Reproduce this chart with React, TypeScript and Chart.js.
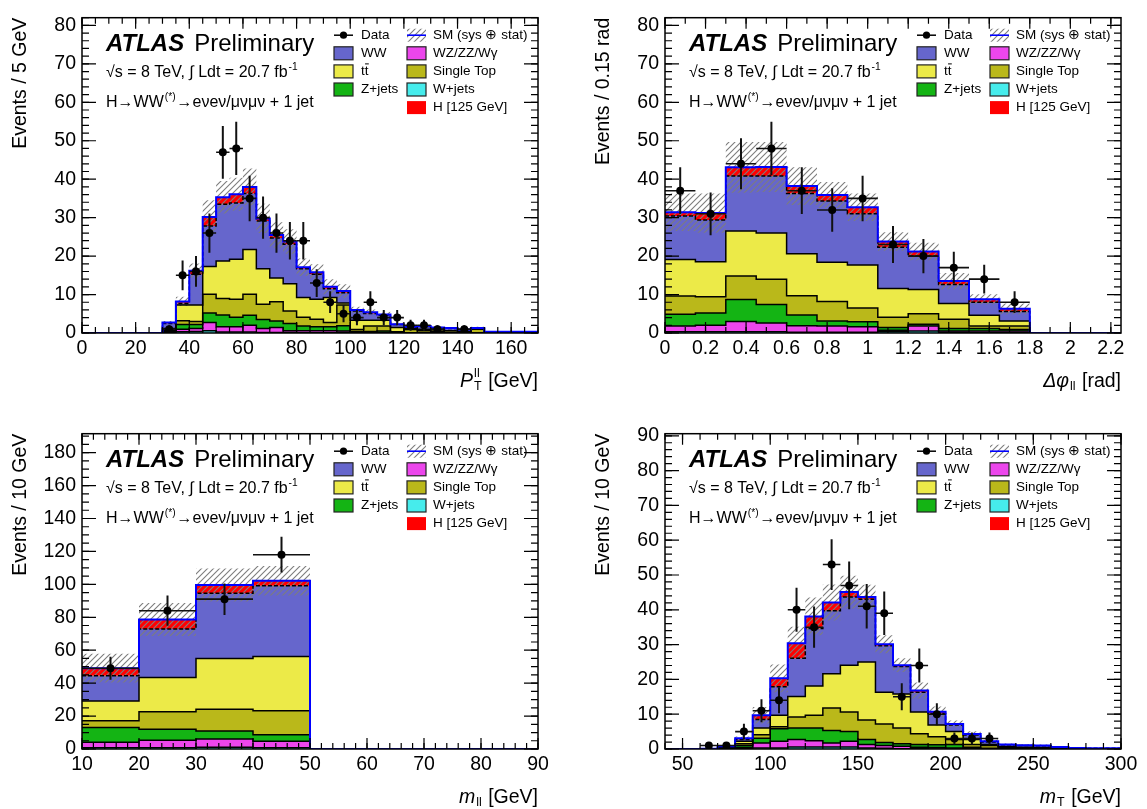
import React, { useEffect, useRef } from 'react';
import { Chart, registerables } from 'chart.js';

Chart.register(...registerables);

const FONT = "'Liberation Sans', Arial, Helvetica, sans-serif";

// Stack order, bottom to top
const processColors = ['#46ECEC', '#EC46EC', '#14B414', '#BAB81A', '#ECEA48', '#6666CC', '#FF0000'];
const legendCol1 = ['Data', 'WW', 'tt', 'Z+jets'];
const legendCol1Proc = [-1, 5, 4, 2];
const legendCol2 = ['SM (sys \u2295 stat)', 'WZ/ZZ/W\u03b3', 'Single Top', 'W+jets', 'H [125 GeV]'];
const legendCol2Proc = [-1, 1, 3, 0, 6];

// ---------------- Panel 1: pT(ll), 5 GeV bins from 0 to 170
const ptWJets = [0,0,0,0,0,0, 0.1,0.3,0.4,0.6,0.25,0.25,0.25,0.15,0.1,0.1,0.05,0.05,0.05,0.1, 0,0,0,0,0,0,0,0,0,0,0,0,0,0];
const ptDiboson = [0,0,0,0,0,0, 0.3,0.7,0.8,2.1,1.35,1.35,1.75,1.05,1.3,0.5,0.55,0.55,0.55,0.4, 0.1,0.1,0.1,0,0,0,0,0,0,0,0,0,0,0];
const ptZJets = [0,0,0,0,0,0, 0.2,1.2,1.0,2.5,3.1,2.5,2.6,2.3,1.7,1.9,1.2,1.0,1.0,1.4, 0.3,0.3,0.4,0.1,0,0,0,0,0,0,0,0,0,0];
const ptSingleTop = [0,0,0,0,0,0, 0.3,1.0,0.8,4.9,4.3,4.7,5.5,4.0,5.0,3.2,2.3,2.0,1.1,5.4, 0.5,1.4,1.3,0.2,0.9,0.6,0.3,0.2,0.1,1.0,0,0,0,0];
const ptTTbar = [0,0,0,0,0,0, 0.3,4.1,4.3,7.2,9.7,10.4,11.6,9.2,6.2,7.1,5.1,5.2,6.5,0.5, 2.4,1.5,1.5,1.1,0.3,0.4,0.5,0.4,0.3,0.1,0,0,0,0];
const ptWW = [0,0,0,0,0,0, 1.3,0.4,8.0,10.5,14.8,14.6,14.6,12.4,10.4,10.3,7.5,6.5,2.3,2.7, 2.4,1.8,1.3,0.8,0.3,0.7,0.5,0.6,0.45,0.15,0.3,0.3,0.3,0.3];
const ptHiggs = [0,0,0,0,0,0, 0.2,0.5,0.9,2.4,1.8,2.3,1.7,0.7,0.8,0.7,0.4,0.5,0.5,0.4, 0.3,0.3,0.2,0.1,0.1,0.1,0.1,0.1,0.05,0.05,0,0,0,0];
const ptUnc = [0,0,0,0,0,0, 0.4,1.2,1.9,4.3,4.2,4.3,4.8,3.8,3.3,3.2,2.3,2.1,2.0,1.8, 0.8,0.7,0.7,0.4,0.3,0.3,0.2,0.2,0.2,0.3,0.05,0.05,0.05,0.05];
const ptData = [null,null,null,null,null,null, 1,15,16,26,47,48,35,30,26,24,24,13,8,5, 4,8,4,4,2,2,1,null,1,null,null,null,null,null];

// ---------------- Panel 2: delta phi(ll), 0.15 rad bins from 0 to 2.25
const dphiWJets = [0.3,0.3,0.3,0.3,0.2,0.2,0.2,0.3,0.5,0.2,0.1,0.1,0,0,0];
const dphiDiboson = [1.5,1.7,2.7,2.3,1.7,1.6,1.4,0.4,1.3,0.3,0.4,0.4,0,0,0];
const dphiZJets = [3.1,3.2,5.7,4.8,2.8,1.3,1.3,0.7,0.5,0.7,0.7,0.4,0,0,0];
const dphiSingleTop = [4.7,4.2,6.1,6.6,5.0,5.1,3.6,2.7,2.7,2.4,0.6,0.9,0,0,0];
const dphiTTbar = [9.5,9.1,11.7,12.0,10.9,10.2,11.2,7.5,6.3,4.1,2.8,1.3,0,0,0];
const dphiWW = [11.3,10.9,14.3,14.8,15.7,15.9,13.3,10.7,8.7,4.9,3.4,2.5,0,0,0];
const dphiHiggs = [1.0,1.8,2.3,2.4,1.9,1.6,1.7,1.5,1.2,0.9,0.8,0.7,0,0,0];
const dphiUnc = [4.9,5.1,6.6,6.5,4.9,3.4,3.6,2.4,2.3,2.1,1.3,1.4,0,0,0];
const dphiData = [37,31,44,48,37,32,35,23,20,17,14,8,null,null,null];

// ---------------- Panel 3: m(ll), 10 GeV bins from 10 to 90
const mllWJets = [0.7,0.7,1.0,0.7,0,0,0,0];
const mllDiboson = [3.4,4.6,5.1,4.0,0,0,0,0];
const mllZJets = [8.9,6.7,4.9,4.0,0,0,0,0];
const mllSingleTop = [4.2,10.6,13.2,14.5,0,0,0,0];
const mllTTbar = [12.0,20.9,30.8,33.0,0,0,0,0];
const mllWW = [15.3,29.4,39.6,43.0,0,0,0,0];
const mllHiggs = [4.6,5.8,5.0,3.0,0,0,0,0];
const mllUnc = [8.7,10.0,10.0,9.0,0,0,0,0];
const mllData = [49,84,91,118,null,null,null,null];

// ---------------- Panel 4: mT, 10 GeV bins from 40 to 300
const mtWJets = [0,0,0,0,0.1,0.3,0.3,0.6,0.6,0.6,0.6,0.3,0.2,0.1,0.1,0,0,0,0,0,0,0,0,0,0,0];
const mtDiboson = [0,0,0,0.1,0.3,1.4,1.9,2.1,1.8,1.1,1.6,1.0,0.8,0.7,0.4,0.4,0.3,0.1,0,0,0,0,0,0,0,0];
const mtZJets = [0,0,0,0.1,0.6,1.4,3.6,3.3,3.6,3.6,2.8,1.4,0.9,0.7,0.8,0.8,1.0,0.4,0.2,0,0,0,0,0,0,0];
const mtSingleTop = [0,0,0,0.1,0.5,1.0,0.6,3.2,3.7,6.5,5.6,5.6,5.3,4.5,3.1,2.3,1.4,0.8,0.8,0.4,0.3,0.2,0,0,0,0];
const mtTTbar = [0,0,0,0.1,0.7,1.9,3.3,5.9,8.4,9.8,13.5,16.7,9.1,9.8,6.2,3.4,2.3,1.4,0.3,0.3,0.2,0.2,0.2,0,0,0];
const mtWW = [0,0,0.1,0.3,0.5,2.5,8.2,11.0,16.5,18.1,19.6,18.0,13.4,7.9,5.7,3.3,1.9,1.3,0.7,0.5,0.5,0.5,0.35,0.3,0.2,0.2];
const mtHiggs = [0,0,0,0.1,0.4,1.2,2.4,4.3,3.5,2.4,1.4,0.7,0.4,0.4,0.5,0.5,0.3,0.3,0.2,0.1,0.1,0.1,0.05,0,0,0];
const mtUnc = [0,0,0.05,0.2,0.5,2.4,4.0,4.7,5.4,5.2,4.7,3.5,2.6,2.0,2.3,1.5,1.0,0.8,0.5,0.3,0.3,0.3,0.2,0.1,0.1,0.1];
const mtData = [null,null,1,1,5,11,14,40,35,53,47,41,39,15,24,10,3,3,3,null,null,null,null,null,null,null];

type Seg = { t?: string; it?: boolean; sup?: string; sub?: string };

type PanelSpec = {
  lo: number; width: number; n: number;
  xMin: number; xMax: number; yMax: number;
  xMajor: number; xMinor: number; yMajor: number; yMinor: number;
  comps: number[][]; unc: number[]; data: (number | null)[];
  yTitle: string; xTitle: Seg[];
};

const panels: PanelSpec[] = [
  {
    lo: 0, width: 5, n: 34, xMin: 0, xMax: 170, yMax: 82, xMajor: 20, xMinor: 5, yMajor: 10, yMinor: 2,
    comps: [ptWJets, ptDiboson, ptZJets, ptSingleTop, ptTTbar, ptWW, ptHiggs], unc: ptUnc, data: ptData,
    yTitle: 'Events / 5 GeV', xTitle: [{ t: 'P', it: true }, { sup: 'll', sub: 'T' }, { t: ' [GeV]' }],
  },
  {
    lo: 0, width: 0.15, n: 15, xMin: 0, xMax: 2.25, yMax: 82, xMajor: 0.2, xMinor: 0.1, yMajor: 10, yMinor: 2,
    comps: [dphiWJets, dphiDiboson, dphiZJets, dphiSingleTop, dphiTTbar, dphiWW, dphiHiggs], unc: dphiUnc, data: dphiData,
    yTitle: 'Events / 0.15 rad', xTitle: [{ t: '\u0394\u03c6', it: true }, { sub: 'll' }, { t: ' [rad]' }],
  },
  {
    lo: 10, width: 10, n: 8, xMin: 10, xMax: 90, yMax: 191.5, xMajor: 10, xMinor: 2, yMajor: 20, yMinor: 5,
    comps: [mllWJets, mllDiboson, mllZJets, mllSingleTop, mllTTbar, mllWW, mllHiggs], unc: mllUnc, data: mllData,
    yTitle: 'Events / 10 GeV', xTitle: [{ t: 'm', it: true }, { sub: 'll' }, { t: ' [GeV]' }],
  },
  {
    lo: 40, width: 10, n: 26, xMin: 40, xMax: 300, yMax: 90.6, xMajor: 50, xMinor: 10, yMajor: 10, yMinor: 2,
    comps: [mtWJets, mtDiboson, mtZJets, mtSingleTop, mtTTbar, mtWW, mtHiggs], unc: mtUnc, data: mtData,
    yTitle: 'Events / 10 GeV', xTitle: [{ t: 'm', it: true }, { sub: 'T' }, { t: ' [GeV]' }],
  },
];

const CW = 564;
const CH = 393;
const AREA_LEFT = 82;
const AREA_RIGHT = 538;
const AREA_TOP = 12;
const AREA_BOTTOM = 333;
const positions = [
  { left: 0, top: 0 },
  { left: 583, top: 0 },
  { left: 0, top: 416 },
  { left: 583, top: 416 },
];

function makeHatch(): CanvasPattern | string {
  const s = 6;
  const c = document.createElement('canvas');
  c.width = s; c.height = s;
  const g = c.getContext('2d');
  if (!g) return 'rgba(128,128,128,0.4)';
  g.strokeStyle = 'rgb(125,125,125)';
  g.lineWidth = 1.1;
  g.beginPath();
  g.moveTo(0, s); g.lineTo(s, 0);
  g.moveTo(-1, 1); g.lineTo(1, -1);
  g.moveTo(s - 1, s + 1); g.lineTo(s + 1, s - 1);
  g.stroke();
  return g.createPattern(c, 'repeat') || 'rgba(128,128,128,0.4)';
}

function segFont(size: number, it?: boolean) {
  return `${it ? 'italic ' : ''}${size}px ${FONT}`;
}

function segWidth(ctx: CanvasRenderingContext2D, s: Seg, size: number) {
  if (s.t !== undefined) { ctx.font = segFont(size, s.it); return ctx.measureText(s.t).width; }
  ctx.font = segFont(size * 0.64);
  const w1 = s.sup ? ctx.measureText(s.sup).width : 0;
  const w2 = s.sub ? ctx.measureText(s.sub).width : 0;
  return Math.max(w1, w2) + 2;
}

function drawRich(ctx: CanvasRenderingContext2D, segs: Seg[], x: number, y: number, size: number, align: 'left' | 'right') {
  const ws = segs.map((s) => segWidth(ctx, s, size));
  let cx = align === 'right' ? x - ws.reduce((a, b) => a + b, 0) : x;
  ctx.textAlign = 'left';
  ctx.textBaseline = 'alphabetic';
  ctx.fillStyle = '#000';
  segs.forEach((s, i) => {
    if (s.t !== undefined) {
      ctx.font = segFont(size, s.it);
      ctx.fillText(s.t, cx, y);
    } else {
      ctx.font = segFont(size * 0.64);
      if (s.sup) ctx.fillText(s.sup, cx + 1, y - size * 0.48);
      if (s.sub) ctx.fillText(s.sub, cx + 1, y + size * 0.2);
    }
    cx += ws[i];
  });
}

const errorBarPlugin = {
  id: 'dataErrorBars',
  beforeDatasetDraw(chart: any, args: any) {
    const ds = chart.data.datasets[args.index];
    if (!ds.isData) return;
    const xs = chart.scales.x;
    const ys = chart.scales.y;
    const ctx: CanvasRenderingContext2D = chart.ctx;
    const a = chart.chartArea;
    ctx.save();
    ctx.beginPath();
    ctx.rect(a.left, a.top, a.right - a.left, a.bottom - a.top);
    ctx.clip();
    ctx.strokeStyle = '#111';
    for (const p of ds.data) {
      const e = Math.sqrt(p.y);
      const px = xs.getPixelForValue(p.x);
      const py = ys.getPixelForValue(p.y);
      ctx.lineWidth = 2;
      ctx.beginPath();
      ctx.moveTo(px, ys.getPixelForValue(p.y + e));
      ctx.lineTo(px, ys.getPixelForValue(Math.max(0, p.y - e)));
      ctx.stroke();
      ctx.lineWidth = 1.6;
      ctx.beginPath();
      ctx.moveTo(xs.getPixelForValue(p.x - ds.half), py);
      ctx.lineTo(xs.getPixelForValue(p.x + ds.half), py);
      ctx.stroke();
    }
    ctx.restore();
  },
};

function makeDecor(spec: PanelSpec, hatch: CanvasPattern | string) {
  return {
    id: 'atlasDecor',
    afterDraw(chart: any) {
      const ctx: CanvasRenderingContext2D = chart.ctx;
      const a = chart.chartArea;
      const xs = chart.scales.x;
      const ys = chart.scales.y;
      ctx.save();
      ctx.strokeStyle = '#000';
      ctx.lineWidth = 1.2;
      const tickX = (step: number, len: number) => {
        const k0 = Math.ceil(spec.xMin / step - 1e-6);
        const k1 = Math.floor(spec.xMax / step + 1e-6);
        ctx.beginPath();
        for (let k = k0; k <= k1; k++) {
          const px = xs.getPixelForValue(k * step);
          ctx.moveTo(px, a.bottom); ctx.lineTo(px, a.bottom - len);
          ctx.moveTo(px, a.top); ctx.lineTo(px, a.top + len);
        }
        ctx.stroke();
      };
      const tickY = (step: number, len: number) => {
        const k1 = Math.floor(spec.yMax / step + 1e-6);
        ctx.beginPath();
        for (let k = 0; k <= k1; k++) {
          const py = ys.getPixelForValue(k * step);
          ctx.moveTo(a.left, py); ctx.lineTo(a.left + len, py);
          ctx.moveTo(a.right, py); ctx.lineTo(a.right - len, py);
        }
        ctx.stroke();
      };
      tickX(spec.xMinor, 6);
      tickX(spec.xMajor, 11);
      tickY(spec.yMinor, 7);
      tickY(spec.yMajor, 14);
      ctx.lineWidth = 1.5;
      ctx.strokeRect(a.left, a.top, a.right - a.left, a.bottom - a.top);

      // axis titles
      drawRich(ctx, spec.xTitle, a.right, a.bottom + 53.5, 19.5, 'right');
      ctx.save();
      ctx.translate(25.5, a.top);
      ctx.rotate(-Math.PI / 2);
      ctx.font = segFont(19.5);
      ctx.textAlign = 'right';
      ctx.textBaseline = 'alphabetic';
      ctx.fillStyle = '#000';
      ctx.fillText(spec.yTitle, 0, 0);
      ctx.restore();

      // ATLAS label
      const lx = a.left + 24;
      ctx.fillStyle = '#000';
      ctx.textAlign = 'left';
      ctx.textBaseline = 'alphabetic';
      ctx.font = `italic bold 24px ${FONT}`;
      ctx.fillText('ATLAS', lx, a.top + 33);
      const wAtlas = ctx.measureText('ATLAS').width;
      ctx.font = `24px ${FONT}`;
      ctx.fillText('Preliminary', lx + wAtlas + 10, a.top + 33);
      drawRich(ctx, [{ t: '\u221as = 8 TeV, \u222b Ldt = 20.7 fb' }, { sup: '-1' }], lx, a.top + 59.7, 16, 'left');
      drawRich(ctx, [{ t: 'H\u2192WW' }, { sup: '(*)' }, { t: '\u2192e\u03bde\u03bd/\u03bc\u03bd\u03bc\u03bd + 1 jet' }], lx, a.top + 89.7, 16, 'left');

      // legend
      const x1 = a.left + 252;
      const t1 = a.left + 279;
      const x2 = a.left + 325;
      const t2 = a.left + 351;
      const row = (i: number) => a.top + 17.5 + 18.1 * i;
      const box = (x: number, y: number, color: string | CanvasPattern, border: boolean) => {
        ctx.fillStyle = color;
        ctx.fillRect(x, y - 6.5, 19, 13);
        if (border) {
          ctx.strokeStyle = '#222';
          ctx.lineWidth = 1.2;
          ctx.strokeRect(x, y - 6.5, 19, 13);
        }
      };
      const label = (txt: string, x: number, y: number) => {
        ctx.font = `13.5px ${FONT}`;
        ctx.fillStyle = '#000';
        ctx.textAlign = 'left';
        ctx.textBaseline = 'middle';
        ctx.fillText(txt, x, y);
        if (txt === 'tt') {
          const wt = ctx.measureText('t').width;
          ctx.strokeStyle = '#000';
          ctx.lineWidth = 1;
          ctx.beginPath();
          ctx.moveTo(x + wt + 0.3, y - 7.5);
          ctx.lineTo(x + 2 * wt + 0.3, y - 7.5);
          ctx.stroke();
        }
      };
      legendCol1.forEach((txt, i) => {
        const y = row(i);
        const proc = legendCol1Proc[i];
        if (proc < 0) {
          ctx.strokeStyle = '#000';
          ctx.lineWidth = 1.5;
          ctx.beginPath();
          ctx.moveTo(x1, y); ctx.lineTo(x1 + 19, y);
          ctx.stroke();
          ctx.fillStyle = '#000';
          ctx.beginPath();
          ctx.arc(x1 + 9.5, y, 3.6, 0, Math.PI * 2);
          ctx.fill();
        } else {
          box(x1, y, processColors[proc], true);
        }
        label(txt, t1, y);
      });
      legendCol2.forEach((txt, i) => {
        const y = row(i);
        const proc = legendCol2Proc[i];
        if (proc < 0) {
          box(x2, y, hatch, false);
          ctx.strokeStyle = '#0000FF';
          ctx.lineWidth = 1.6;
          ctx.beginPath();
          ctx.moveTo(x2, y); ctx.lineTo(x2 + 19, y);
          ctx.stroke();
        } else {
          box(x2, y, processColors[proc], proc !== 6);
        }
        label(txt, t2, y);
      });
      ctx.restore();
    },
  };
}

function fmtTick(v: number | string) {
  const r = Math.round(Number(v) * 1000) / 1000;
  return String(r);
}

function buildChart(canvas: HTMLCanvasElement, spec: PanelSpec) {
  const hatch = makeHatch();
  const { lo, width, n } = spec;
  const edge = (i: number) => lo + i * width;
  let run: number[] = new Array(n).fill(0);
  const cum = spec.comps.map((arr) => {
    run = run.map((v, i) => v + arr[i]);
    return run;
  });
  const total = run;
  const steps = (vals: number[]) => {
    const pts = vals.map((v, i) => ({ x: edge(i), y: v }));
    pts.push({ x: edge(n), y: vals[n - 1] });
    return pts;
  };
  const datasets: any[] = cum.map((vals, k) => ({
    type: 'line',
    data: steps(vals),
    stepped: 'before',
    pointRadius: 0,
    fill: k === 0 ? 'origin' : '-1',
    backgroundColor: processColors[k],
    borderColor: k === 6 ? 'rgba(0,0,0,0)' : '#000',
    borderWidth: 1.5,
    borderDash: k === 5 ? [4, 2] : [],
    order: 20 - k,
  }));
  datasets.push({
    type: 'line',
    data: steps(total.map((v, i) => Math.max(0, v - spec.unc[i]))),
    stepped: 'before', pointRadius: 0, borderWidth: 1, borderColor: 'rgba(0,0,0,0)', fill: false, order: 12,
  });
  datasets.push({
    type: 'line',
    data: steps(total.map((v, i) => v + spec.unc[i])),
    stepped: 'before', pointRadius: 0, borderWidth: 1, borderColor: 'rgba(0,0,0,0)', fill: '-1',
    backgroundColor: hatch, order: 11,
  });
  datasets.push({
    type: 'line',
    data: steps(total),
    stepped: 'before', pointRadius: 0, borderWidth: 2, borderColor: '#0000FF', fill: false, order: 1,
  });
  const pts: { x: number; y: number }[] = [];
  spec.data.forEach((v, i) => { if (v !== null) pts.push({ x: lo + (i + 0.5) * width, y: v }); });
  datasets.push({
    type: 'line',
    isData: true,
    half: width / 2,
    data: pts,
    showLine: false,
    pointRadius: 4,
    pointHoverRadius: 4,
    pointBackgroundColor: '#000',
    pointBorderColor: '#000',
    pointBorderWidth: 0,
    order: 0,
  });

  const tickFont = { family: FONT, size: 19.5 };
  return new Chart(canvas, {
    type: 'line',
    data: { datasets },
    options: {
      responsive: false,
      animation: false,
      devicePixelRatio: 1,
      events: [],
      layout: { padding: { top: AREA_TOP, left: 0, right: CW - AREA_RIGHT, bottom: 0 } },
      plugins: {
        legend: { display: false },
        tooltip: { enabled: false },
        filler: { propagate: false, drawTime: 'beforeDatasetsDraw' },
      },
      scales: {
        x: {
          type: 'linear',
          min: spec.xMin,
          max: spec.xMax,
          grid: { display: false, drawTicks: false },
          border: { display: false },
          ticks: {
            stepSize: spec.xMajor,
            includeBounds: false,
            autoSkip: false,
            maxRotation: 0,
            minRotation: 0,
            maxTicksLimit: Math.ceil((spec.xMax - spec.xMin) / spec.xMajor) + 2,
            padding: 4,
            color: '#000',
            font: tickFont,
            callback: (v: any) => fmtTick(v),
          },
          afterFit: (s: any) => { s.height = CH - AREA_BOTTOM; },
        },
        y: {
          type: 'linear',
          min: 0,
          max: spec.yMax,
          grid: { display: false, drawTicks: false },
          border: { display: false },
          ticks: {
            stepSize: spec.yMajor,
            includeBounds: false,
            autoSkip: false,
            maxTicksLimit: Math.ceil(spec.yMax / spec.yMajor) + 2,
            padding: 6,
            color: '#000',
            font: tickFont,
            callback: (v: any) => fmtTick(v),
          },
          afterFit: (s: any) => { s.width = AREA_LEFT; },
        },
      },
    } as any,
    plugins: [errorBarPlugin as any, makeDecor(spec, hatch) as any],
  });
}

function Panel({ spec, left, top }: { spec: PanelSpec; left: number; top: number }) {
  const ref = useRef<HTMLCanvasElement>(null);
  useEffect(() => {
    if (!ref.current) return;
    const chart = buildChart(ref.current, spec);
    return () => chart.destroy();
  }, [spec]);
  return (
    <canvas
      ref={ref}
      width={CW}
      height={CH}
      style={{ position: 'absolute', left, top, width: CW, height: CH }}
    />
  );
}

export default function App() {
  return (
    <div style={{ position: 'absolute', left: 0, top: 0, width: 1147, height: 809, background: '#fff', overflow: 'hidden' }}>
      {panels.map((p, i) => (
        <Panel key={i} spec={p} left={positions[i].left} top={positions[i].top} />
      ))}
    </div>
  );
}
